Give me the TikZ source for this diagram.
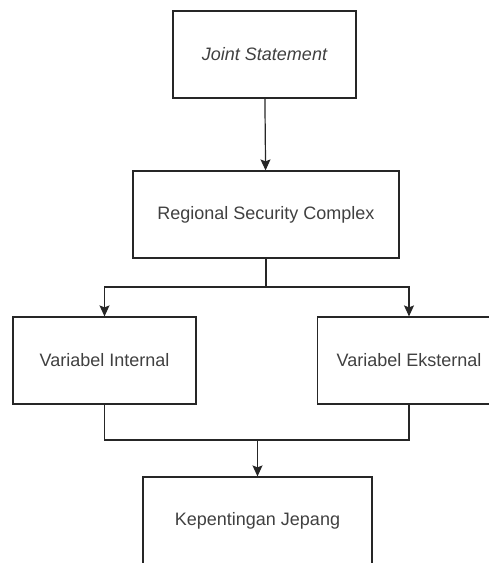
\documentclass[tikz,border=0pt]{standalone}
\usepackage{fontspec}
\setmainfont{Liberation Sans}
\usepackage{tikz}
\usetikzlibrary{arrows.meta,positioning}

\begin{document}
\begin{tikzpicture}[
    box/.style={draw=black!85, line width=1.2pt, rectangle, minimum height=87pt,
        text=black!75, font=\fontsize{18}{21}\selectfont, inner sep=0pt},
    link/.style={draw=black!85, line width=1.2pt},
    arr/.style={link, -{Stealth[length=11pt,width=10pt,inset=2pt]}}]
    \useasboundingbox (0,0) rectangle (489pt,-563pt);
    \clip (0,0) rectangle (489pt,-563pt);
    % boxes
    \node[box, minimum width=183pt] (js) at (264.5pt,-54.5pt) {\itshape Joint Statement};
    \node[box, minimum width=266pt] (rsc) at (266pt,-214.5pt) {Regional Security Complex};
    \node[box, minimum width=183pt] (vi) at (104.5pt,-360.5pt) {Variabel Internal};
    \node[box, minimum width=183pt] (ve) at (409pt,-360.5pt) {Variabel Eksternal};
    \node[box, minimum width=229pt] (kj) at (257.5pt,-520.5pt) {Kepentingan Jepang};
    % connectors
    \coordinate (split) at (266pt,-287pt);
    \coordinate (merge) at (257.5pt,-440pt);
    \draw[arr] (js) -- (rsc);
    \draw[link] (rsc) -- (split);
    \draw[arr] (split) -| (vi.north);
    \draw[arr] (split) -| (ve.north);
    \draw[link] (vi.south) |- (merge) -| (ve.south);
    \draw[arr] (merge) -- (kj);
\end{tikzpicture}
\end{document}
